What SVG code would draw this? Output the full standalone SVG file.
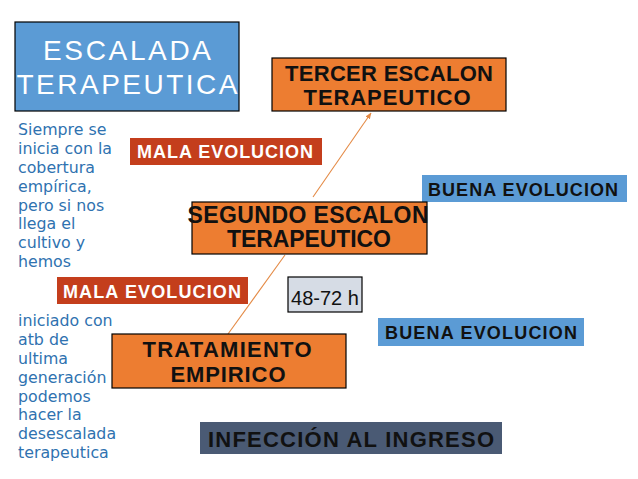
<svg xmlns="http://www.w3.org/2000/svg" width="638" height="479" viewBox="0 0 638 479">
<style>
.box{stroke:#000;stroke-width:1.2}
.orange{fill:#ed7d31}
.hdr{font-family:"Liberation Sans",Arial,sans-serif;font-weight:bold;fill:#111;text-anchor:middle}
.lbl{font-family:"Liberation Sans",Arial,sans-serif;font-weight:bold;font-size:18px;text-anchor:middle}
.side{font-family:"DejaVu Sans",Verdana,sans-serif;font-size:15.8px;fill:#2f72b0}
.conn{stroke:#e48a45;stroke-width:1.1;fill:none}
</style>
<defs>
<marker id="ah" viewBox="0 0 10 10" refX="9" refY="5" markerWidth="6" markerHeight="6" orient="auto">
<path d="M0,1 L10,5 L0,9 Z" fill="#e48a45"/>
</marker>
</defs>
<rect width="638" height="479" fill="#fff"/>

<g id="title">
<rect class="box" x="15" y="22" width="224" height="89" fill="#5b9bd5"/>
<text x="127" y="60" font-family="Liberation Sans,Arial,sans-serif" font-size="28" fill="#fff" text-anchor="middle" textLength="168" lengthAdjust="spacing">ESCALADA</text>
<text x="127" y="94" font-family="Liberation Sans,Arial,sans-serif" font-size="28" fill="#fff" text-anchor="middle" textLength="221" lengthAdjust="spacing">TERAPEUTICA</text>
</g>

<g id="side-note">
<text class="side"><tspan x="18" y="135">Siempre se</tspan><tspan x="18" y="154">inicia con la</tspan><tspan x="18" y="173">cobertura</tspan><tspan x="18" y="192">empírica,</tspan><tspan x="18" y="211">pero si nos</tspan><tspan x="18" y="229">llega el</tspan><tspan x="18" y="248">cultivo y</tspan><tspan x="18" y="267">hemos</tspan></text>
<text class="side"><tspan x="18" y="326">iniciado con</tspan><tspan x="18" y="345">atb de</tspan><tspan x="18" y="364">ultima</tspan><tspan x="18" y="383">generación</tspan><tspan x="18" y="402">podemos</tspan><tspan x="18" y="420">hacer la</tspan><tspan x="18" y="439">desescalada</tspan><tspan x="18" y="458">terapeutica</tspan></text>
</g>

<g id="connectors">
<line class="conn" x1="228" y1="334" x2="285" y2="255"/>
<line class="conn" x1="313" y1="197" x2="371" y2="113" marker-end="url(#ah)"/>
</g>

<g id="tercer">
<rect class="box orange" x="272" y="58" width="234" height="53"/>
<text class="hdr" font-size="22" x="389" y="81" textLength="208" lengthAdjust="spacing">TERCER ESCALON</text>
<text class="hdr" font-size="22" x="387" y="105" textLength="167" lengthAdjust="spacing">TERAPEUTICO</text>
</g>

<g id="mala1">
<rect x="130" y="138" width="192" height="27" fill="#c43e1c"/>
<text class="lbl" fill="#fff" x="225" y="158" textLength="176" lengthAdjust="spacing">MALA EVOLUCION</text>
</g>

<g id="buena1">
<rect x="422" y="175" width="205" height="27" fill="#5b9bd5"/>
<text class="lbl" fill="#111" x="523" y="196" textLength="190" lengthAdjust="spacing">BUENA EVOLUCION</text>
</g>

<g id="segundo">
<rect class="box orange" x="192" y="202" width="235" height="52"/>
<text class="hdr" font-size="23" x="308" y="223" textLength="241" lengthAdjust="spacing">SEGUNDO ESCALON</text>
<text class="hdr" font-size="23" x="309" y="247" textLength="164" lengthAdjust="spacing">TERAPEUTICO</text>
</g>

<g id="mala2">
<rect x="57" y="277" width="191" height="27" fill="#c43e1c"/>
<text class="lbl" fill="#fff" x="152" y="298" textLength="178" lengthAdjust="spacing">MALA EVOLUCION</text>
</g>

<g id="hours">
<rect class="box" x="288" y="277" width="74" height="35" fill="#d6dce5"/>
<text x="325" y="305" font-family="Liberation Sans,Arial,sans-serif" font-size="20" fill="#111" text-anchor="middle">48-72 h</text>
</g>

<g id="buena2">
<rect x="378" y="318" width="206" height="28" fill="#5b9bd5"/>
<text class="lbl" fill="#111" x="481" y="339" textLength="192" lengthAdjust="spacing">BUENA EVOLUCION</text>
</g>

<g id="tratamiento">
<rect class="box orange" x="112" y="334" width="234" height="54"/>
<text class="hdr" font-size="22" x="227" y="357" textLength="169" lengthAdjust="spacing">TRATAMIENTO</text>
<text class="hdr" font-size="22" x="228" y="382" textLength="115" lengthAdjust="spacing">EMPIRICO</text>
</g>

<g id="infeccion">
<rect x="200" y="422" width="302" height="32" fill="#4a5a74"/>
<text class="hdr" font-size="22" x="351" y="447" textLength="286" lengthAdjust="spacing">INFECCIÓN AL INGRESO</text>
</g>
</svg>
